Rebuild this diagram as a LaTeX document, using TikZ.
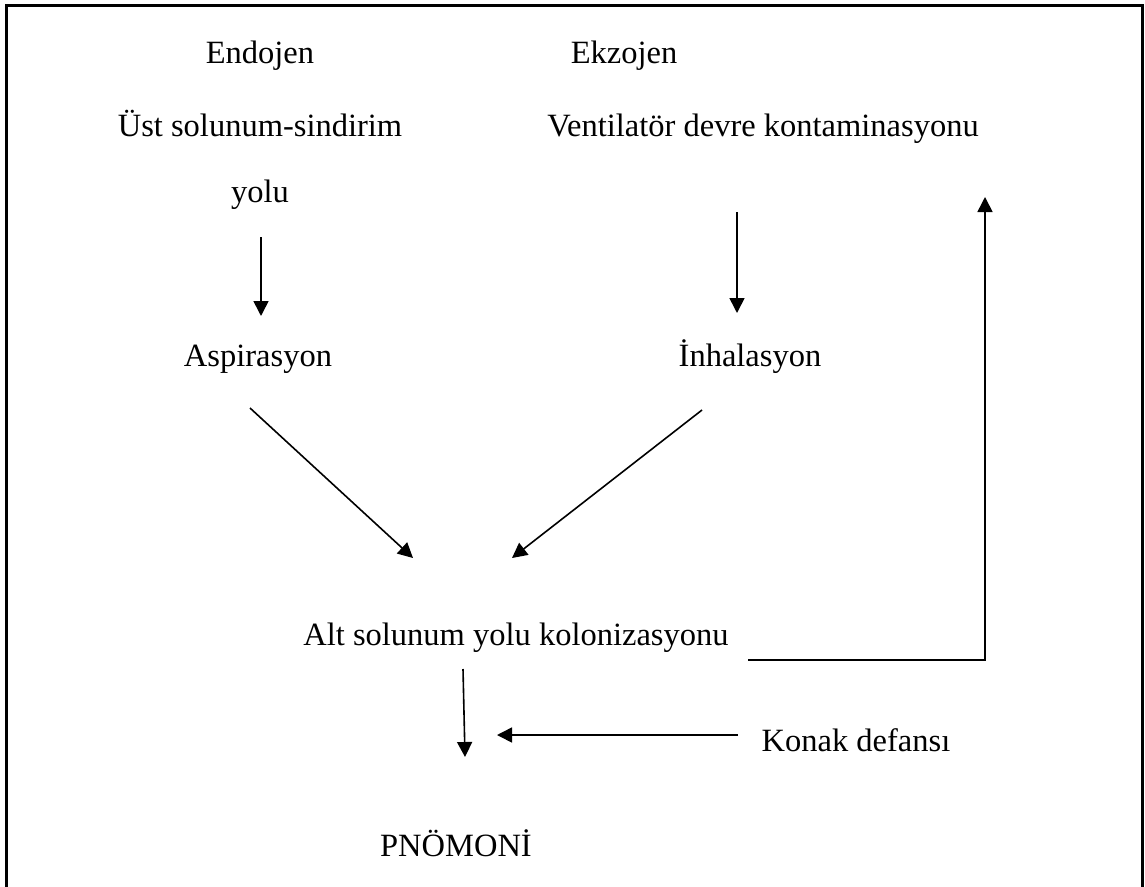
\documentclass[tikz,border=0pt]{standalone}
\usepackage{fontspec}
\setmainfont{Liberation Serif}
\usetikzlibrary{arrows.meta}
\begin{document}
\begin{tikzpicture}[x=1pt,y=-1pt,
  lbl/.style={inner sep=0pt,anchor=base,font=\fontsize{32.5}{38}\selectfont},
  conn/.style={line width=1.6pt},
  arr/.style={conn,-{Triangle[length=15pt,width=15pt]}}]
\useasboundingbox (0,0) rectangle (1145,886);
\draw[line width=3pt] (6,890) -- (6,5) -- (1142,5) -- (1142,890);
% texts
\node[lbl] (endo) at (260,63) {Endojen};
\node[lbl] (ust) at (260,136) {Üst solunum-sindirim};
\node[lbl] (yolu) at (260,202) {yolu};
\node[lbl] (ekzo) at (624,63) {Ekzojen};
\node[lbl] (vent) at (763,136) {Ventilatör devre kontaminasyonu};
\node[lbl] (asp) at (258,366) {Aspirasyon};
\node[lbl] (inh) at (750,366) {İnhalasyon};
\node[lbl] (alt) at (516,645) {Alt solunum yolu kolonizasyonu};
\node[lbl] (konak) at (856,751) {Konak defansı};
\node[lbl] (pno) at (456,856) {PNÖMONİ};
% connector ends
\coordinate (a1s) at (261,237); \coordinate (a1e) at (261,316);
\coordinate (a2s) at (737,212); \coordinate (a2e) at (737,313);
\coordinate (d1s) at (250,408); \coordinate (d1e) at (413,558);
\coordinate (d2s) at (702,410); \coordinate (d2e) at (512,558);
\coordinate (fs) at (748,660); \coordinate (fc) at (985,660); \coordinate (fe) at (985,197);
\coordinate (ds) at (463,669); \coordinate (de) at (465,757);
\coordinate (ks) at (738,735); \coordinate (ke) at (497,735);
% connectors
\draw[arr] (a1s) -- (a1e);
\draw[arr] (a2s) -- (a2e);
\draw[arr] (d1s) -- (d1e);
\draw[arr] (d2s) -- (d2e);
\draw[arr] (fs) -- (fc) -- (fe);
\draw[arr] (ds) -- (de);
\draw[arr] (ks) -- (ke);
\end{tikzpicture}
\end{document}
